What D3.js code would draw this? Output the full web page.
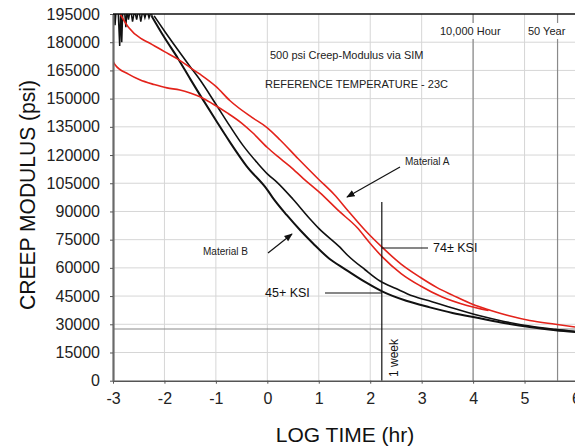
<!DOCTYPE html>
<html>
<head>
<meta charset="utf-8">
<script src="https://cdn.jsdelivr.net/npm/d3@7"></script>
<style>
  body { margin: 0; background: #fff; }
  svg { font-family: "Liberation Sans", Arial, sans-serif; }
</style>
</head>
<body>
<div id="graphArea"></div>
<script>
// log time (hr) ticks and modulus ticks
var xTicks = [-3, -2, -1, 0, 1, 2, 3, 4, 5, 6]
var yTicks = [0, 15000, 30000, 45000, 60000, 75000, 90000, 105000, 120000, 135000, 150000, 165000, 180000, 195000]

// noisy start of the black (Material B) records, psi
var noiseT = [-3.0, -2.995, -2.98, -2.96, -2.94, -2.9, -2.87, -2.85, -2.83, -2.81, -2.78, -2.75, -2.73, -2.7, -2.66, -2.62, -2.58, -2.54, -2.5, -2.46, -2.42, -2.38, -2.34, -2.3, -2.26, -2.24]
var noiseV = [164000, 196000, 197000, 189000, 197000, 197000, 178000, 197000, 180000, 197000, 198000, 188000, 197000, 192000, 198000, 191000, 197000, 192000, 198000, 191000, 197000, 193000, 197000, 193000, 196000, 194000]

// Material A, upper red
var redAT = [-2.9, -2.86, -2.7, -2.46, -2.32, -2.0, -1.74, -1.5, -1.31, -1.0, -0.73, -0.3, 0, 0.25, 0.6, 1.0, 1.3, 1.58, 1.9, 2.23, 2.6, 2.97, 3.3, 3.6, 4.0, 4.33, 4.7, 5.1, 5.6, 6.0]
var redAV = [197000, 195000, 188000, 182000, 180000, 175000, 171000, 166500, 163000, 156500, 149000, 140000, 134500, 128000, 118000, 107000, 99000, 90000, 80000, 71000, 62000, 55000, 49500, 45500, 40500, 37500, 34500, 32000, 30000, 28500]

// Material A, lower red
var redBT = [-3.0, -2.96, -2.7, -2.48, -2.2, -1.95, -1.7, -1.5, -1.31, -1.05, -0.78, -0.5, -0.28, 0, 0.19, 0.44, 0.7, 1.02, 1.4, 1.74, 2.0, 2.23, 2.6, 2.97, 3.4, 3.88, 4.3]
var redBV = [170000, 168000, 163000, 160000, 157500, 155700, 154600, 153000, 151000, 147000, 142400, 137000, 131700, 124000, 119500, 114000, 107500, 100000, 90000, 81600, 73000, 66000, 57000, 50500, 44500, 40000, 37300]

// Material B, upper black
var blkAT = [-2.2, -2.0, -1.74, -1.5, -1.31, -1.0, -0.73, -0.47, -0.2, 0, 0.19, 0.5, 0.83, 1.0, 1.41, 1.55, 1.9, 2.19, 2.5, 2.83, 3.2, 3.5, 4.13, 4.6, 5.1, 5.6, 6.0]
var blkAV = [194000, 186000, 176000, 167000, 160000, 147000, 135500, 125000, 116000, 110000, 105500, 96500, 86000, 81000, 71000, 67000, 59000, 53000, 49000, 45000, 42000, 39500, 34500, 31500, 29000, 27300, 26200]

// Material B, lower black
var blkBT = [-2.25, -2.0, -1.74, -1.5, -1.31, -1.0, -0.73, -0.4, 0, 0.1, 0.38, 0.64, 0.89, 1.2, 1.5, 1.9, 2.23, 2.7, 3.16, 3.6, 4.13, 4.6, 5.1, 5.6, 6.0]
var blkBV = [194000, 182500, 171500, 160500, 152000, 138500, 127000, 114000, 101500, 97500, 88000, 80000, 73000, 65000, 59500, 52500, 47500, 42500, 39000, 36000, 33200, 30700, 28500, 26800, 25800]

var weekT = Math.log10(168)        // 1 week
var hourT = 4                      // 10,000 hour
var yearT = Math.log10(50 * 8760)  // 50 year
var limitV = 27500

var width = 575
var height = 446

var svg = d3.select("#graphArea")
  .append("svg")
    .attr("width", width)
    .attr("height", height)

var x = d3.scaleLinear().domain([-3, 6]).range([113, 576])
var y = d3.scaleLinear().domain([0, 195000]).range([380.7, 14])

svg.append("defs").append("clipPath")
  .attr("id", "plotClip")
  .append("rect")
    .attr("x", x(-3))
    .attr("y", y(195000))
    .attr("width", x(6) - x(-3))
    .attr("height", y(0) - y(195000))

var arrow = svg.select("defs").append("marker")
  .attr("id", "arrow")
  .attr("viewBox", "0 0 10 10")
  .attr("refX", 9)
  .attr("refY", 5)
  .attr("markerWidth", 7)
  .attr("markerHeight", 7)
  .attr("orient", "auto")
arrow.append("path").attr("d", "M0,1 L10,5 L0,9 Z").attr("fill", "#111")

// grid
svg.append("g")
  .selectAll("line")
  .data(xTicks.slice(1, -1))
  .enter().append("line")
    .attr("x1", function(d) { return x(d) })
    .attr("x2", function(d) { return x(d) })
    .attr("y1", y(195000))
    .attr("y2", y(0))
    .attr("stroke", "#d6d6d6")
    .attr("stroke-width", 1)

svg.append("g")
  .selectAll("line")
  .data(yTicks.slice(1, -1))
  .enter().append("line")
    .attr("x1", x(-3))
    .attr("x2", x(6))
    .attr("y1", function(d) { return y(d) })
    .attr("y2", function(d) { return y(d) })
    .attr("stroke", "#d6d6d6")
    .attr("stroke-width", 1)

// reference lines
svg.append("line")
  .attr("x1", x(hourT)).attr("x2", x(hourT))
  .attr("y1", y(195000)).attr("y2", y(0))
  .attr("stroke", "#8a8a8a").attr("stroke-width", 1.2)
svg.append("line")
  .attr("x1", x(yearT)).attr("x2", x(yearT))
  .attr("y1", y(195000)).attr("y2", y(0))
  .attr("stroke", "#8a8a8a").attr("stroke-width", 1.2)
svg.append("line")
  .attr("x1", x(-3)).attr("x2", x(6))
  .attr("y1", y(limitV)).attr("y2", y(limitV))
  .attr("stroke", "#8a8a8a").attr("stroke-width", 1.2)

// text boxes at top
function boxText(tx, ty, str, size)
{
  var t = svg.append("text")
    .attr("x", tx)
    .attr("y", ty)
    .attr("font-size", size)
    .attr("fill", "#222")
    .text(str)
  var b = t.node().getBBox()
  svg.insert("rect", "text")
    .attr("x", b.x - 3)
    .attr("y", b.y - 2)
    .attr("width", b.width + 6)
    .attr("height", b.height + 4)
    .attr("fill", "#fff")
  return t
}

boxText(440, 35, "10,000  Hour", 11)
boxText(528, 35, "50 Year", 11)

svg.append("text").attr("x", 270).attr("y", 59).attr("font-size", 11).attr("fill", "#222")
  .text("500 psi Creep-Modulus via SIM")
svg.append("text").attr("x", 265).attr("y", 88).attr("font-size", 11).attr("fill", "#222")
  .text("REFERENCE TEMPERATURE - 23C")

// curves
var line = d3.line()
  .x(function(d) { return x(d[0]) })
  .y(function(d) { return y(d[1]) })
  .curve(d3.curveMonotoneX)

function pairs(ts, vs) { return ts.map(function(t, i) { return [t, vs[i]] }) }

var curves = svg.append("g").attr("clip-path", "url(#plotClip)")

curves.append("path")
  .attr("d", d3.line().x(function(d) { return x(d[0]) }).y(function(d) { return y(d[1]) })(pairs(noiseT, noiseV)))
  .attr("fill", "none").attr("stroke", "#111").attr("stroke-width", 1.5)
curves.append("path")
  .attr("d", line(pairs(blkAT, blkAV)))
  .attr("fill", "none").attr("stroke", "#111").attr("stroke-width", 1.6)
curves.append("path")
  .attr("d", line(pairs(blkBT, blkBV)))
  .attr("fill", "none").attr("stroke", "#111").attr("stroke-width", 2)
curves.append("path")
  .attr("d", line(pairs(redBT, redBV)))
  .attr("fill", "none").attr("stroke", "#e3231b").attr("stroke-width", 1.6)
curves.append("path")
  .attr("d", line(pairs(redAT, redAV)))
  .attr("fill", "none").attr("stroke", "#e3231b").attr("stroke-width", 1.6)

// 1 week line
svg.append("line")
  .attr("x1", x(weekT)).attr("x2", x(weekT))
  .attr("y1", y(95000)).attr("y2", y(0))
  .attr("stroke", "#111").attr("stroke-width", 1.2)
svg.append("text")
  .attr("transform", "translate(" + (x(weekT) + 16) + "," + 377 + ")rotate(-90)")
  .attr("font-size", 12)
  .attr("fill", "#111")
  .text("1 week")

// callouts
svg.append("line").attr("x1", x(weekT)).attr("x2", 428).attr("y1", 248).attr("y2", 248)
  .attr("stroke", "#111").attr("stroke-width", 1.2)
svg.append("text").attr("x", 433).attr("y", 252).attr("font-size", 12.5).attr("fill", "#111")
  .text("74\u00b1 KSI")
svg.append("line").attr("x1", 325).attr("x2", x(weekT)).attr("y1", 293).attr("y2", 293)
  .attr("stroke", "#111").attr("stroke-width", 1.2)
svg.append("text").attr("x", 265).attr("y", 297).attr("font-size", 12.5).attr("fill", "#111")
  .text("45+ KSI")

svg.append("text").attr("x", 405).attr("y", 165).attr("font-size", 10).attr("fill", "#222")
  .text("Material A")
svg.append("line").attr("x1", 400).attr("y1", 167).attr("x2", 347).attr("y2", 197)
  .attr("stroke", "#111").attr("stroke-width", 1.2).attr("marker-end", "url(#arrow)")
svg.append("text").attr("x", 203).attr("y", 255).attr("font-size", 10).attr("fill", "#222")
  .text("Material B")
svg.append("line").attr("x1", 268).attr("y1", 253).attr("x2", 292).attr("y2", 234)
  .attr("stroke", "#111").attr("stroke-width", 1.2).attr("marker-end", "url(#arrow)")

// axes
var xAxis = svg.append("g")
  .attr("transform", "translate(0," + y(0) + ")")
  .call(d3.axisBottom(x).tickValues(xTicks).tickSize(3).tickSizeOuter(0).tickFormat(d3.format("d")))
xAxis.select(".domain").attr("stroke", "#555").attr("stroke-width", 1.5)
xAxis.selectAll(".tick line").attr("stroke", "#555")
xAxis.selectAll("text")
  .attr("font-size", 16)
  .attr("font-family", '"Liberation Sans", Arial, sans-serif')
  .attr("fill", "#222")
  .attr("dy", "1.1em")
  .text(function(d) { return d < 0 ? "-" + Math.abs(d) : d })

var yAxis = svg.append("g")
  .attr("transform", "translate(" + x(-3) + ",0)")
  .call(d3.axisLeft(y).tickValues(yTicks).tickSize(3).tickSizeOuter(0).tickFormat(d3.format("d")))
yAxis.select(".domain").attr("stroke", "#6a6a6a").attr("stroke-width", 2.2)
yAxis.selectAll(".tick line").attr("stroke", "#555")
yAxis.selectAll("text")
  .attr("font-size", 16)
  .attr("font-family", '"Liberation Sans", Arial, sans-serif')
  .attr("fill", "#222")
  .attr("x", -13)

// top border
svg.append("line")
  .attr("x1", x(-3)).attr("x2", width)
  .attr("y1", y(195000)).attr("y2", y(195000))
  .attr("stroke", "#111").attr("stroke-width", 1.5)

// titles
svg.append("text")
  .attr("text-anchor", "middle")
  .attr("x", 345)
  .attr("y", 442)
  .attr("font-size", 21)
  .attr("fill", "#111")
  .text("LOG TIME (hr)")

svg.append("text")
  .attr("text-anchor", "middle")
  .attr("transform", "translate(35,195)rotate(-90)")
  .attr("font-size", 22)
  .attr("textLength", 230)
  .attr("lengthAdjust", "spacingAndGlyphs")
  .attr("fill", "#111")
  .text("CREEP MODULUS (psi)")
</script>
</body>
</html>
